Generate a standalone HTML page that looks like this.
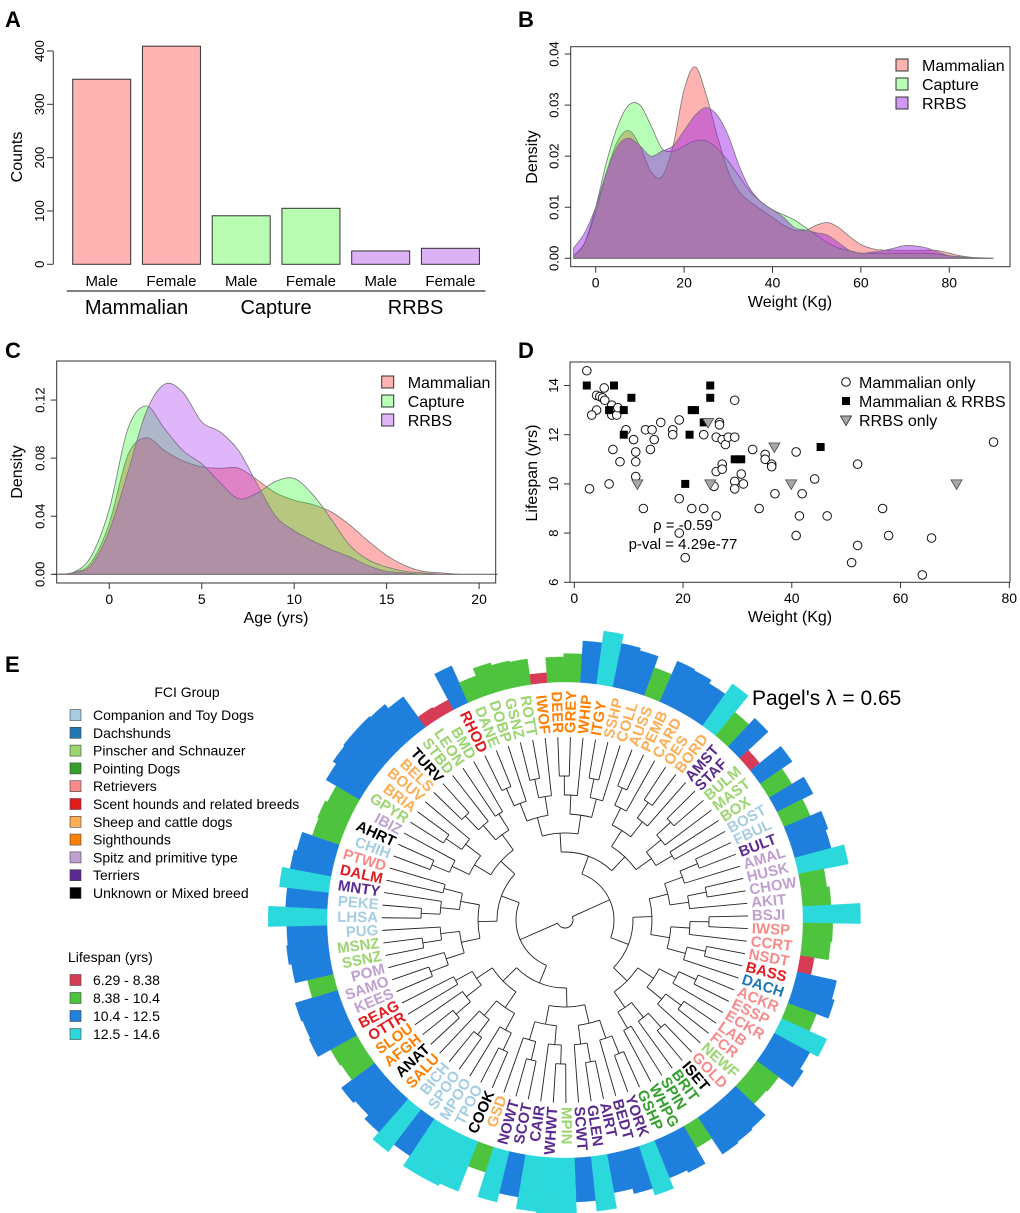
<!DOCTYPE html>
<html><head><meta charset="utf-8"><style>
body{margin:0;background:#fff}
svg{display:block;font-family:"Liberation Sans",Arial,sans-serif}
</style></head><body>
<svg id="fig" width="1020" height="1213" viewBox="0 0 1020 1213" xmlns="http://www.w3.org/2000/svg">
<g font-weight="bold" font-size="22">
<text x="5" y="27">A</text>
<text x="518" y="27">B</text>
<text x="5" y="358">C</text>
<text x="518" y="358">D</text>
<text x="5" y="672">E</text>
</g>
<g id="pa"></g>
<g id="pb"></g>
<g id="pc"></g>
<g id="pd"></g>
<g id="pe"></g>
</svg>
<script>
// ---------- Panel A data ----------
const barCats = ["Male","Female","Male","Female","Male","Female"];
const barGroups = ["Mammalian","Capture","RRBS"];
const barValues = [347,409,91,105,25,30];
const barTicks = [0,100,200,300,400];
// ---------- Panel B data ----------
const wGrid = [-5,-2.5,0,2.5,5,7.5,10,12.5,15,17.5,20,22.5,25,27.5,30,32.5,35,37.5,40,42.5,45,47.5,50,52.5,55,57.5,60,62.5,65,67.5,70,72.5,75,77.5,80,82.5,85,87.5,90];
const wMammalian = [0.0005,0.003,0.009,0.017,0.023,0.025,0.022,0.017,0.016,0.022,0.033,0.0375,0.032,0.024,0.017,0.013,0.011,0.0095,0.008,0.0065,0.0055,0.0055,0.0065,0.007,0.006,0.0042,0.0027,0.0019,0.0016,0.0015,0.0015,0.0015,0.0016,0.0015,0.001,0.0005,0.0002,0.0001,0];
const wCapture = [0.0005,0.003,0.010,0.019,0.026,0.030,0.030,0.026,0.0215,0.021,0.022,0.023,0.023,0.0215,0.019,0.016,0.013,0.011,0.0095,0.0085,0.0075,0.006,0.0045,0.003,0.002,0.0015,0.001,0.001,0.001,0.001,0.001,0.001,0.001,0.0008,0.0005,0.0003,0.0001,0,0];
const wRRBS = [0.002,0.005,0.010,0.017,0.022,0.0235,0.022,0.02,0.021,0.022,0.025,0.028,0.0295,0.028,0.024,0.018,0.0135,0.011,0.0095,0.008,0.006,0.0055,0.005,0.0045,0.003,0.0015,0.001,0.0012,0.0015,0.002,0.0025,0.0024,0.002,0.0012,0.0005,0.0002,0.0001,0,0];
const wXTicks = [0,20,40,60,80];
const wYTicks = [0,0.01,0.02,0.03,0.04];
// ---------- Panel C data ----------
const aGrid = [-3,-2,-1,0,1,2,3,4,5,6,7,8,9,10,11,12,13,14,15,16,17,18,19,20,21];
const aMammalian = [0,0.001,0.008,0.035,0.082,0.094,0.085,0.078,0.074,0.073,0.073,0.065,0.056,0.051,0.048,0.043,0.034,0.023,0.013,0.006,0.002,0.001,0,0,0];
const aCapture = [0,0.001,0.012,0.045,0.1,0.116,0.1,0.085,0.076,0.063,0.052,0.056,0.064,0.066,0.055,0.038,0.02,0.01,0.005,0.002,0.001,0,0,0,0];
const aRRBS = [0,0.001,0.006,0.03,0.07,0.112,0.131,0.125,0.105,0.098,0.085,0.062,0.04,0.03,0.023,0.017,0.012,0.006,0.002,0.001,0,0,0,0,0];
const aXTicks = [0,5,10,15,20];
const aYTicks = [0,0.04,0.08,0.12];
// ---------- Panel D data ----------
const mOnlyW = [2.3,4.1,4.7,5.2,5.6,5.5,4.1,3.2,6.9,6.9,7.8,8.0,2.8,6.4,7.1,8.4,9.5,10.9,11.3,11.3,11.3,12.7,13.1,14.3,14.7,14.0,15.9,18.1,18.1,19.3,19.3,19.3,20.4,21.6,23.8,23.8,25.7,26.1,26.1,26.1,26.7,26.7,27.2,27.2,27.2,27.8,28.3,29.5,29.5,29.5,29.5,30.7,31.1,32.8,34.0,35.1,35.1,36.3,36.3,36.9,40.8,40.8,41.4,41.9,44.2,46.5,51.0,52.1,52.1,56.7,57.8,64.0,65.7,77.1];
const mOnlyL = [14.6,13.6,13.55,13.5,13.4,13.9,13.0,12.8,13.2,12.8,12.8,13.1,9.8,10.0,11.4,10.9,12.2,11.8,11.3,10.9,10.3,9.0,12.2,12.2,11.8,11.4,12.5,12.2,12.0,12.6,9.4,8.0,7.0,9.0,12.0,9.0,9.9,10.5,8.7,11.9,12.5,12.4,11.8,10.8,10.6,11.6,11.9,13.4,11.9,10.1,9.8,10.4,10.0,11.4,9.0,11.2,11.0,10.8,10.7,9.6,11.3,7.9,8.7,9.6,10.2,8.7,6.8,10.8,7.5,9.0,7.9,6.3,7.8,11.7];
const bothW = [2.3,7.3,6.4,9.1,10.5,9.1,21.6,22.2,23.8,25.0,25.0,21.2,20.4,29.5,30.7,45.3];
const bothL = [14.0,14.0,13.0,13.0,13.5,12.0,13.0,13.0,12.5,14.0,13.5,12.0,10.0,11.0,11.0,11.5];
const rOnlyW = [24.6,11.6,25.0,36.8,39.9,70.3];
const rOnlyL = [12.5,10.0,10.0,11.5,10.0,10.0];
const dXTicks = [0,20,40,60,80];
const dYTicks = [6,8,10,12,14];
// ---------- Panel E data ----------
const breeds = ["RHOD","DANE","DOBP","GSNZ","ROTT","IWOF","DEER","GREY","WHIP","ITGY","SSHP","COLL","AUSS","PEMB","CARD","OES","BORD","AMST","STAF","BULM","MAST","BOX","BOST","FBUL","BULT","AMAL","HUSK","CHOW","AKIT","BSJI","IWSP","CCRT","NSDT","BASS","DACH","ACKR","ESSP","ECKR","LAB","FCR","NEWF","GOLD","ISET","BRIT","SPIN","WHPG","GSHP","YORK","BEDT","AIRT","GLEN","SCWT","MPIN","WHWT","CAIR","SCOT","NOWT","GSD","COOK","TPOO","MPOO","SPOO","BICH","SALU","ANAT","AFGH","SLOU","OTTR","BEAG","KEES","SAMO","POM","SSNZ","MSNZ","PUG","LHSA","PEKE","MNTY","DALM","PTWD","CHIH","AHRT","IBIZ","GPYR","BRIA","BOUV","BELS","TURV","STBD","LEON","BMD"];
const breedGroup = [5,2,2,2,2,7,7,7,7,7,6,6,6,6,6,6,6,9,9,2,2,2,0,0,9,8,8,8,8,8,4,4,4,5,1,4,4,4,4,4,2,4,10,3,3,3,3,9,9,9,9,9,2,9,9,9,9,6,10,0,0,0,0,7,10,7,7,5,5,8,8,8,2,2,0,0,0,9,5,4,0,10,8,2,6,6,6,10,2,2,2];
const lifespan = [11.8,9.0,10.2,9.8,9.6,7.2,9.5,10.0,12.0,13.8,12.4,12.0,10.2,12.4,12.2,11.6,13.5,10.3,11.6,7.5,11.6,9.7,11.8,10.0,11.8,11.4,13.4,9.6,10.0,14.4,10.2,10.0,7.8,11.8,12.2,10.3,13.2,11.8,12.4,9.8,9.6,12.0,12.2,12.4,9.5,12.2,11.8,13.5,12.4,11.6,14.0,12.4,14.2,14.2,14.0,12.2,13.6,9.7,13.8,14.2,14.2,12.4,13.8,12.4,11.6,12.0,10.0,10.2,12.4,12.2,12.4,9.7,11.6,12.0,11.8,14.6,12.0,13.2,12.0,11.6,10.0,10.2,9.8,11.6,12.2,12.4,12.4,12.2,11.4,7.6,7.4];
const groupNames = ["Companion and Toy Dogs","Dachshunds","Pinscher and Schnauzer","Pointing Dogs","Retrievers","Scent hounds and related breeds","Sheep and cattle dogs","Sighthounds","Spitz and primitive type","Terriers","Unknown or Mixed breed"];
const lifeBins = ["6.29 - 8.38","8.38 - 10.4","10.4 - 12.5","12.5 - 14.6"];
const lifeBreaks = [6.29,8.38,10.4,12.5,14.6];

const NS="http://www.w3.org/2000/svg";
function mk(parent,tag,attrs,text){const e=document.createElementNS(NS,tag);for(const k in attrs)e.setAttribute(k,attrs[k]);if(text!==undefined)e.textContent=text;parent.appendChild(e);return e;}
function smooth(pts){let d="M"+pts[0][0].toFixed(2)+","+pts[0][1].toFixed(2);for(let i=0;i<pts.length-1;i++){const p0=pts[Math.max(0,i-1)],p1=pts[i],p2=pts[i+1],p3=pts[Math.min(pts.length-1,i+2)];const c1=[p1[0]+(p2[0]-p0[0])/6,p1[1]+(p2[1]-p0[1])/6],c2=[p2[0]-(p3[0]-p1[0])/6,p2[1]-(p3[1]-p1[1])/6];d+="C"+c1[0].toFixed(2)+","+c1[1].toFixed(2)+" "+c2[0].toFixed(2)+","+c2[1].toFixed(2)+" "+p2[0].toFixed(2)+","+p2[1].toFixed(2);}return d;}
const SERIES=["Mammalian","Capture","RRBS"];

// ---------- Panel A ----------
(function(){
const g=document.getElementById("pa");
const y=v=>264.3-v*0.5333;
const barX=i=>72.7+i*69.75, bw=58;
const cols=["#ffb3b3","#ffb3b3","#b9fdb3","#b9fdb3","#dcb1f6","#dcb1f6"];
mk(g,"line",{x1:53.3,x2:53.3,y1:y(0),y2:y(400),stroke:"#333"});
barTicks.forEach(t=>{
 const tk=mk(g,"line",{x1:47,x2:53.3,y1:y(t),y2:y(t),stroke:"#333"});
 
 
 const tl=mk(g,"text",{x:44,y:y(t),"font-size":13,"text-anchor":"middle",transform:`rotate(-90 44 ${y(t)})`},t);
 
 
});
const yt=mk(g,"text",{x:22,y:157,"font-size":16,"text-anchor":"middle",transform:"rotate(-90 22 157)"},"Counts");


barValues.forEach((v,i)=>{
 const r=mk(g,"rect",{x:barX(i),y:y(v),width:bw,height:264.3-y(v),fill:cols[i],stroke:"#333","stroke-width":1});
 
 
 const t=mk(g,"text",{x:barX(i)+bw/2,y:286,"font-size":15,"text-anchor":"middle"},barCats[i]);
 
 
});
barGroups.forEach((n,j)=>{
 const x0=barX(2*j)-6,x1=barX(2*j+1)+bw+6;
 const l=mk(g,"line",{x1:x0,x2:x1,y1:291,y2:291,stroke:"#333","stroke-width":1.2});
 
 
 const t=mk(g,"text",{x:(x0+x1)/2,y:314,"font-size":20,"text-anchor":"middle"},n);
 
 
});
})();

// ---------- density panel helper ----------
function densityPanel(g,o){
 const X=v=>o.x0+(v-o.v0)*o.kx, Y=v=>o.y0-v*o.ky;
 [o.s1,o.s2,o.s3].forEach((s,k)=>{
  const pts=o.grid.map((v,i)=>[X(v),Y(s[i])]);
  const d=smooth(pts)+`L${X(o.grid[o.grid.length-1])},${Y(0)}L${X(o.grid[0])},${Y(0)}Z`;
  const p=mk(g,"path",{d:d,fill:o.fills[k],stroke:"#777","stroke-width":0.8});
  
  
 });
 const box=mk(g,"rect",{x:o.box[0],y:o.box[1],width:o.box[2]-o.box[0],height:o.box[3]-o.box[1],fill:"none",stroke:"#333"});
 
 
 o.xt.forEach(t=>{
  const l=mk(g,"line",{x1:X(t),x2:X(t),y1:o.box[3],y2:o.box[3]+6,stroke:"#333"});
  
  
  const tx=mk(g,"text",{x:X(t),y:o.box[3]+21,"font-size":14,"text-anchor":"middle"},t);
  
  
 });
 o.yt.forEach(t=>{
  const l=mk(g,"line",{x1:o.box[0]-6,x2:o.box[0],y1:Y(t),y2:Y(t),stroke:"#333"});
  
  
  const tx=mk(g,"text",{x:o.box[0]-12,y:Y(t),"font-size":13,"text-anchor":"middle",transform:`rotate(-90 ${o.box[0]-12} ${Y(t)})`},t.toFixed(2));
  
  
 });
 const xt=mk(g,"text",{x:o.xl[0],y:o.xl[1],"font-size":16,"text-anchor":"middle"},o.xl[2]);
 
 
 const yt=mk(g,"text",{x:o.yl[0],y:o.yl[1],"font-size":16,"text-anchor":"middle",transform:`rotate(-90 ${o.yl[0]} ${o.yl[1]})`},"Density");
 
 
 SERIES.forEach((n,k)=>{
  const ly=o.leg[1]+k*19;
  const r=mk(g,"rect",{x:o.leg[0],y:ly-6,width:12,height:12,fill:o.fills[k],stroke:"#333"});
  
  
  const t=mk(g,"text",{x:o.leg[0]+26,y:ly+6,"font-size":16},n);
  
  
 });
}
densityPanel(document.getElementById("pb"),{fills:["rgba(255,0,0,0.3)","rgba(0,255,0,0.28)","rgba(150,25,230,0.45)"],grid:wGrid,s1:wMammalian,s2:wCapture,s3:wRRBS,v0:0,x0:595.7,kx:4.42,y0:258.3,ky:5107,box:[570.7,46.7,1010,266.7],xt:wXTicks,yt:wYTicks,xl:[790,307,"Weight (Kg)"],yl:[537,157],leg:[896,65]});
densityPanel(document.getElementById("pc"),{fills:["rgba(255,0,0,0.3)","rgba(0,255,0,0.28)","rgba(160,32,240,0.33)"],grid:aGrid,s1:aMammalian,s2:aCapture,s3:aRRBS,v0:0,x0:109.3,kx:18.49,y0:574.3,ky:1452,box:[56.7,361,495.7,583],xt:aXTicks,yt:aYTicks,xl:[276,623,"Age (yrs)"],yl:[22,472],leg:[381.7,382]});

// ---------- Panel D ----------
(function(){
const g=document.getElementById("pd");
const X=v=>574.3+v*5.4375, Y=v=>582.3-(v-6)*24.6;
const box=mk(g,"rect",{x:570,y:362,width:440,height:220.3,fill:"none",stroke:"#333"});


dXTicks.forEach(t=>{
 const l=mk(g,"line",{x1:X(t),x2:X(t),y1:582.3,y2:588,stroke:"#333"});
 
 
 const tx=mk(g,"text",{x:X(t),y:603,"font-size":14,"text-anchor":"middle"},t);
 
 
});
dYTicks.forEach(t=>{
 const l=mk(g,"line",{x1:564,x2:570,y1:Y(t),y2:Y(t),stroke:"#333"});
 
 
 const tx=mk(g,"text",{x:558,y:Y(t),"font-size":13,"text-anchor":"middle",transform:`rotate(-90 558 ${Y(t)})`},t);
 
 
});
const xt=mk(g,"text",{x:790,y:622,"font-size":16,"text-anchor":"middle"},"Weight (Kg)");


const yt=mk(g,"text",{x:537,y:473,"font-size":16,"text-anchor":"middle",transform:"rotate(-90 537 473)"},"Lifespan (yrs)");


mOnlyW.forEach((w,i)=>{
 const c=mk(g,"circle",{cx:X(w),cy:Y(mOnlyL[i]),r:4.3,fill:"#fff",stroke:"#111","stroke-width":1});
 
 
});
bothW.forEach((w,i)=>{
 const r=mk(g,"rect",{x:X(w)-4,y:Y(bothL[i])-4,width:8,height:8,fill:"#000"});
 
 
});
rOnlyW.forEach((w,i)=>{
 const x=X(w),y=Y(rOnlyL[i]);
 const p=mk(g,"path",{d:`M${x-5.5},${y-4}L${x+5.5},${y-4}L${x},${y+5.5}Z`,fill:"#a9a9a9",stroke:"#444","stroke-width":0.8});
 
 
});
const t1=mk(g,"text",{x:683,y:530,"font-size":15,"text-anchor":"middle"},"ρ = -0.59");


const t2=mk(g,"text",{x:683,y:549,"font-size":15,"text-anchor":"middle"},"p-val = 4.29e-77");


const legs=["Mammalian only","Mammalian & RRBS","RRBS only"];
legs.forEach((n,k)=>{
 const y=382+k*19;
 let s;
 if(k==0)s=mk(g,"circle",{cx:846,cy:y,r:4.3,fill:"#fff",stroke:"#111"});
 else if(k==1)s=mk(g,"rect",{x:842,y:y-4,width:8,height:8,fill:"#000"});
 else s=mk(g,"path",{d:`M${840.5},${y-4}L${851.5},${y-4}L846,${y+5.5}Z`,fill:"#a9a9a9",stroke:"#444"});
 
 
 const t=mk(g,"text",{x:859,y:y+6,"font-size":16},n);
 
 
});
})();

// ---------- Panel E ----------
(function(){
const g=document.getElementById("pe");
const CX=565,CY=920,N=breeds.length,step=360/N,A0=-26;
const GC=["#a6cee3","#1f78b4","#9bd56f","#33a02c","#f88a8a","#e31a1c","#fdae55","#ff7f00","#c0a0d0","#5a2a90","#000"];
const LC=["#d73b56","#4dc33e","#1e7fdc","#2bd9dc"];
const P=(r,a)=>{const t=a*Math.PI/180;return [CX+r*Math.sin(t),CY-r*Math.cos(t)];};
const ang=i=>A0+i*step;
lifespan.forEach((v,i)=>{
 let b=0;for(let k=0;k<4;k++)if(v>=lifeBreaks[k])b=k;
 const r0=238,r1=r0+4+(v-6.29)*6.6;
 const a0=ang(i)-step/2,a1=ang(i)+step/2;
 const p1=P(r0,a0),p2=P(r1,a0),p3=P(r1,a1),p4=P(r0,a1);
 const p=mk(g,"path",{d:`M${p1}L${p2}A${r1},${r1} 0 0 1 ${p3}L${p4}A${r0},${r0} 0 0 0 ${p1}Z`,fill:LC[b],stroke:LC[b],"stroke-width":0.3});
 
 
});
function build(lo,hi,d){
 if(lo==hi)return {a:ang(lo),r:183};
 const mid=Math.floor((lo+hi)/2);
 const L=build(lo,mid,d+1),R=build(mid+1,hi,d+1);
 const r=d==0?8:Math.min(30+d*19,172);
 const n={a:(L.a+R.a)/2,r:r};
 [L,R].forEach(c=>{
  const q0=P(r,c.a),q1=P(c.r,c.a);
  const l=mk(g,"line",{x1:q0[0],y1:q0[1],x2:q1[0],y2:q1[1],stroke:"#222","stroke-width":0.9});
  
  
 });
 const s=P(r,L.a),e=P(r,R.a);
 const arc=mk(g,"path",{d:`M${s}A${r},${r} 0 ${R.a-L.a>180?1:0} 1 ${e}`,fill:"none",stroke:"#222","stroke-width":0.9});
 
 
 return n;
}
build(0,N-1,0);
breeds.forEach((b,i)=>{
 let a=((ang(i)%360)+360)%360;
 const p=P(187,a);
 const right=a<180;
 const rot=right?a-90:a+90;
 const t=mk(g,"text",{x:p[0],y:p[1],"font-size":15,"font-weight":"bold",fill:GC[breedGroup[i]],"text-anchor":right?"start":"end","dominant-baseline":"central",transform:`rotate(${rot} ${p[0]} ${p[1]})`},b);
 
 
});
const pt=mk(g,"text",{x:752,y:705,"font-size":21},"Pagel's λ = 0.65");


const ft=mk(g,"text",{x:187,y:697,"font-size":14,"text-anchor":"middle"},"FCI Group");


groupNames.forEach((n,k)=>{
 const y=715+k*17.8;
 const r=mk(g,"rect",{x:70,y:y-5.5,width:11,height:11,fill:GC[k],stroke:"#444","stroke-width":0.6});
 
 
 const t=mk(g,"text",{x:93,y:y+5,"font-size":14},n);
 
 
});
const lt=mk(g,"text",{x:68,y:962,"font-size":14},"Lifespan (yrs)");


lifeBins.forEach((n,k)=>{
 const y=980+k*18;
 const r=mk(g,"rect",{x:70,y:y-5.5,width:11,height:11,fill:LC[k],stroke:"#444","stroke-width":0.6});
 
 
 const t=mk(g,"text",{x:93,y:y+5,"font-size":14},n);
 
 
});
})();
</script>
</body></html>
